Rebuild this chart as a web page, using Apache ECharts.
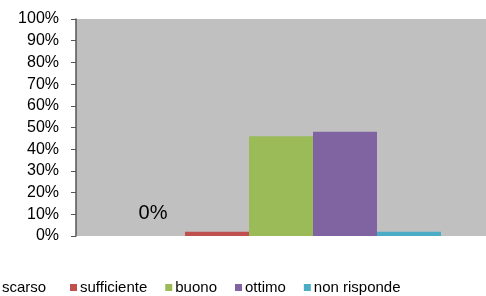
<!DOCTYPE html>
<html>
<head>
<meta charset="utf-8">
<script src="https://cdn.jsdelivr.net/npm/echarts@6/dist/echarts.min.js"></script>
<style>html,body{margin:0;padding:0;background:#fff;}#c{width:486px;height:296px;}</style>
</head>
<body>
<div id="c"></div>
<script>
var seriesNames = ['scarso', 'sufficiente', 'buono', 'ottimo', 'non risponde'];
var seriesValues = [0, 2, 46, 48, 2];
var seriesColors = ['#4F81BD', '#C0504D', '#9BBB59', '#8064A2', '#4BACC6'];
var yMin = 0, yMax = 100, yStep = 10;

var chart = echarts.init(document.getElementById('c'), null, {renderer: 'canvas'});
var font = 'Liberation Sans, Arial, sans-serif';
var series = seriesNames.map(function (n, i) {
  return {
    name: n,
    type: 'bar',
    data: [seriesValues[i]],
    barWidth: 64,
    barGap: '0%',
    itemStyle: {color: seriesColors[i]},
    label: i === 0 ? {show: true, position: 'top', distance: 13, formatter: '{c}%', fontSize: 20, color: '#000', fontFamily: font} : {show: false}
  };
});
chart.setOption({
  animation: false,
  grid: {left: 76, top: 19, right: -7, height: 217, show: true, backgroundColor: '#C0C0C0', borderWidth: 0},
  xAxis: {type: 'category', data: [''], axisLine: {show: false}, axisTick: {show: false}, axisLabel: {show: false}},
  yAxis: {
    type: 'value', min: yMin, max: yMax, interval: yStep,
    axisLine: {show: true, lineStyle: {color: '#555', width: 1.5}},
    axisTick: {show: true, length: 5, lineStyle: {color: '#555'}},
    splitLine: {show: false},
    axisLabel: {formatter: '{value}%', fontSize: 16, color: '#000', margin: 17, fontFamily: font}
  },
  legend: [
    {data: ['scarso'], left: -10, top: 280, padding: 0, itemWidth: 7, itemHeight: 7, icon: 'rect',
     textStyle: {fontSize: 15, color: '#000', fontFamily: font}},
    {data: seriesNames.slice(1), left: 70, top: 280, padding: 0, itemWidth: 7, itemHeight: 7, itemGap: 18, icon: 'rect',
     textStyle: {fontSize: 15, color: '#000', fontFamily: font, padding: [0, 0, 0, -2]}}
  ],
  series: series
});
</script>
</body>
</html>
